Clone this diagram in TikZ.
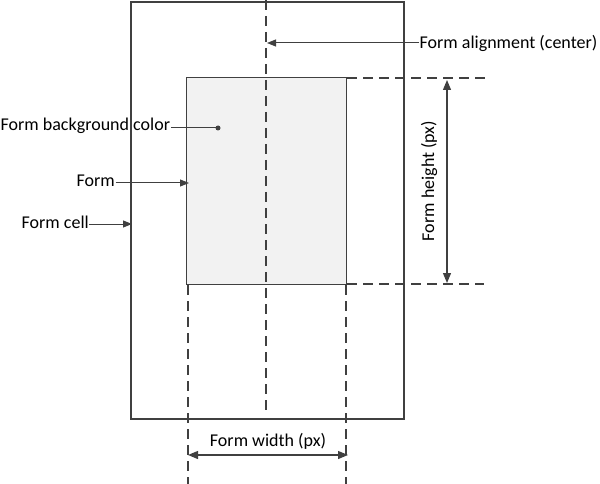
\documentclass[tikz,border=0pt]{standalone}
\usepackage{fontspec}
\setmainfont{Carlito}
\usetikzlibrary{arrows.meta}
\definecolor{ln}{HTML}{404040}
\definecolor{formfill}{HTML}{F2F2F2}
\begin{document}
\begin{tikzpicture}[x=1pt,y=-1pt,
  every node/.style={font=\fontsize{18}{21}\selectfont, text=black, inner sep=0.5pt},
  cellbox/.style={draw=ln, line width=2.3pt},
  formbox/.style={draw=ln, line width=1.2pt, fill=formfill},
  guide/.style={draw=ln, line width=1.3pt, dash pattern=on 10pt off 6pt},
  pointer/.style={draw=ln, line width=1pt, -{Triangle[length=9pt,width=7pt]}},
  dim/.style={draw=ln, line width=1.2pt, {Triangle[length=10pt,width=8pt]}-{Triangle[length=10pt,width=8pt]}}]
\useasboundingbox (0,0) rectangle (600,484);
% shapes
\node[cellbox, minimum width=273pt, minimum height=417pt, inner sep=0pt, anchor=north west] (cell) at (130,1) {};
\node[formbox, minimum width=160pt, minimum height=207pt, inner sep=0pt, anchor=north west] (form) at (186,77) {};
% guides
\coordinate (ctop) at (266,0);
\coordinate (cbot) at (266,416);
\draw[guide] (ctop) -- (cbot);
\coordinate (htop1) at (347,78);
\coordinate (htop2) at (486,78);
\coordinate (hbot1) at (347,284);
\coordinate (hbot2) at (484,284);
\draw[guide] (htop1) -- (htop2);
\draw[guide] (hbot1) -- (hbot2);
\coordinate (vl1) at (188,285);
\coordinate (vl2) at (188,484);
\coordinate (vr1) at (346,285);
\coordinate (vr2) at (346,484);
\draw[guide] (vl1) -- (vl2);
\draw[guide] (vr1) -- (vr2);
% dimension arrows
\coordinate (ha) at (447,80);
\coordinate (hb) at (447,283);
\draw[dim] (ha) -- (hb);
\node[rotate=90] (hlabel) at (429,181) {Form height (px)};
\coordinate (wa) at (188,455);
\coordinate (wb) at (348,455);
\draw[dim] (wa) -- (wb);
\node (wlabel) at (268,441) {Form width (px)};
% labels
\node[anchor=west] (align) at (419,43) {Form alignment (center)};
\coordinate (aligntip) at (267,43);
\draw[pointer] (align.west) -- (aligntip);
\node[anchor=west] (bg) at (0,126) {Form background color};
\coordinate (dot) at (218,128);
\fill[ln] (dot) circle (2.5pt);
\draw[draw=ln, line width=1pt] (bg.east |- dot) -- (dot);
\node[anchor=west] (flabel) at (76,181) {Form};
\coordinate (ftip) at (189,183);
\draw[pointer] (flabel.east |- ftip) -- (ftip);
\node[anchor=west] (clabel) at (21,222) {Form cell};
\coordinate (ctip) at (132,224);
\draw[pointer] (clabel.east |- ctip) -- (ctip);
\end{tikzpicture}
\end{document}
